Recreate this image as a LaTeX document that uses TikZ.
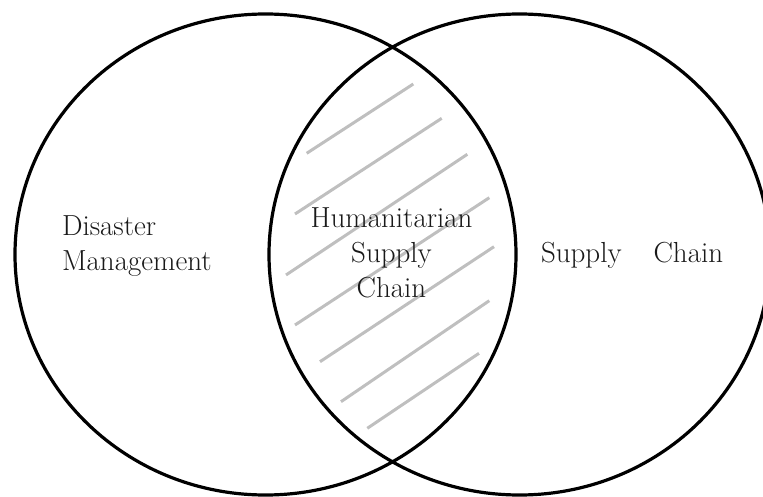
\documentclass[tikz,border=0pt]{standalone}
\begin{document}
\begin{tikzpicture}[x=1pt,y=-1pt,
  ring/.style={line width=3.2pt, draw=black},
  hatch/.style={line width=3pt, draw=black!25},
  lbl/.style={inner sep=0pt, outer sep=0pt, text=black!90,
    font={\fontsize{29pt}{35pt}\selectfont}}]
\useasboundingbox (0,0) rectangle (763,497);
% hatch lines in the overlap
\draw[hatch] (306.7,153.3) -- (413.3,84);
\draw[hatch] (295,214) -- (441.7,118.3);
\draw[hatch] (286,275) -- (467.3,154.3);
\draw[hatch] (295,325) -- (489.3,197.7);
\draw[hatch] (320,361.7) -- (494,246.7);
\draw[hatch] (341,401.7) -- (489.3,300.7);
\draw[hatch] (367.3,428.3) -- (479,353.3);
% the two sets
\coordinate (cl) at (265.5,254.5);
\coordinate (cr) at (519.5,254.5);
\draw[ring] (cl) ellipse [x radius=250.5, y radius=240.5];
\draw[ring] (cr) ellipse [x radius=250.5, y radius=240.5];
% labels
\node[lbl, anchor=base west, align=left] (dm) at (62,270) {Disaster\\Management};
\node[lbl, anchor=base, align=center] (hsc) at (391.5,297) {Humanitarian\\Supply\\Chain};
\node[lbl, anchor=base west] (sc) at (541,262) {Supply\hspace{32pt}Chain};
\end{tikzpicture}
\end{document}
